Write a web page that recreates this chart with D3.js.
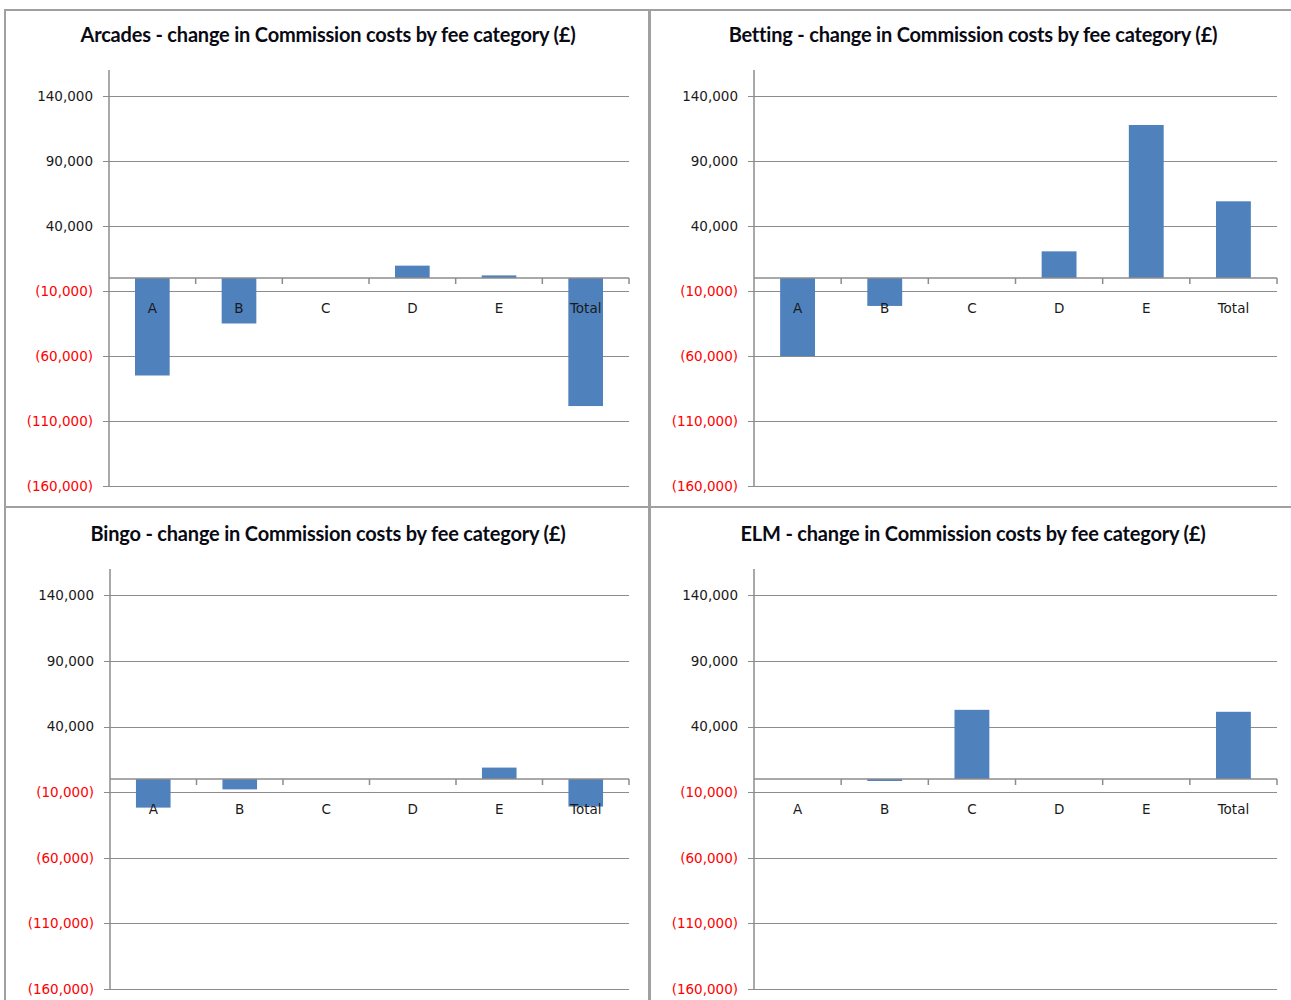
<!DOCTYPE html>
<html>
<head>
<meta charset="utf-8">
<script src="https://cdn.jsdelivr.net/npm/d3@7"></script>
<style>
  html, body { margin: 0; padding: 0; background: #fff; }
  svg { display: block; }
</style>
</head>
<body>
<svg id="chart" width="1291" height="1000"></svg>
<script>
// Fee categories shared by every sector
const categories = ["A", "B", "C", "D", "E", "Total"];

// Change in Commission costs (£) per sector
const arcadesValues = [-75000, -35000, 0, 9500, 2000, -98500];
const bettingValues = [-60000, -21500, 0, 20500, 117700, 59000];
const bingoValues = [-21800, -7900, 0, 0, 8700, -21000];
const elmValues = [0, -1500, 52700, 0, 0, 51200];

// Value axis ticks
const yTicks = [-160000, -110000, -60000, -10000, 40000, 90000, 140000];
const yDomain = [-160000, 160000];

const sectors = [
  { title: "Arcades - change in Commission costs by fee category (£)", values: arcadesValues },
  { title: "Betting - change in Commission costs by fee category (£)", values: bettingValues },
  { title: "Bingo - change in Commission costs by fee category (£)", values: bingoValues },
  { title: "ELM - change in Commission costs by fee category (£)", values: elmValues }
];

// Panel frames and plot areas (2 x 2 grid)
const layout = [
  { box: [5, 10, 644, 497], titleY: 42, plot: { left: 109, right: 629, top: 70, bottom: 486 } },
  { box: [650, 10, 660, 497], titleY: 42, plot: { left: 754, right: 1277, top: 70, bottom: 486 } },
  { box: [5, 507, 644, 510], titleY: 541, plot: { left: 110, right: 629, top: 569, bottom: 989 } },
  { box: [650, 507, 660, 510], titleY: 541, plot: { left: 754, right: 1277, top: 569, bottom: 989 } }
];

const svg = d3.select("#chart");
const gridColor = "#8c8c8c";
const barColor = "#4f81bd";
const fmt = d3.format(",");
const tickText = v => v < 0 ? "(" + fmt(-v) + ")" : fmt(v);

sectors.forEach((sector, i) => {
  const L = layout[i];
  const g = svg.append("g");

  const [bx, by, bw, bh] = L.box;
  g.append("rect")
    .attr("x", bx).attr("y", by).attr("width", bw).attr("height", bh)
    .attr("fill", "#fff").attr("stroke", "#a0a0a0").attr("stroke-width", 2);

  // title centred on the panel
  g.append("text")
    .attr("x", bx + 323)
    .attr("y", L.titleY)
    .attr("text-anchor", "middle")
    .attr("font-family", "Lato, 'Open Sans', sans-serif")
    .attr("font-weight", "bold")
    .attr("font-size", 20)
    .attr("letter-spacing", -0.2)
    .attr("fill", "#0a0a14")
    .text(sector.title);

  const p = L.plot;
  const x = d3.scaleBand().domain(categories).range([p.left, p.right]).paddingInner(0.6).paddingOuter(0.3);
  const xOuter = d3.scaleBand().domain(categories).range([p.left, p.right]);
  const y = d3.scaleLinear().domain(yDomain).range([p.bottom, p.top]);

  // horizontal gridlines with value labels
  const yAxis = d3.axisLeft(y)
    .tickValues(yTicks)
    .tickSize(-(p.right - p.left) - 6)
    .tickPadding(10)
    .tickFormat(tickText);
  const ya = g.append("g")
    .attr("transform", `translate(${p.left - 6},0)`)
    .call(yAxis);
  ya.select(".domain").remove();
  ya.selectAll(".tick line")
    .attr("stroke", gridColor).attr("stroke-width", 1)
    .attr("shape-rendering", "crispEdges");
  ya.selectAll(".tick text")
    .attr("font-family", "'DejaVu Sans', Verdana, sans-serif")
    .attr("font-size", 13.5)
    .attr("fill", d => d < 0 ? "#ff0000" : "#1a1a1a");

  // vertical value axis line
  g.append("line")
    .attr("x1", p.left).attr("x2", p.left)
    .attr("y1", p.top).attr("y2", p.bottom)
    .attr("stroke", gridColor).attr("stroke-width", 1.5);

  // bars
  g.selectAll("rect.bar")
    .data(sector.values.map((v, k) => ({ cat: categories[k], v })))
    .join("rect")
    .attr("class", "bar")
    .attr("x", d => x(d.cat))
    .attr("width", x.bandwidth())
    .attr("y", d => y(Math.max(0, d.v)))
    .attr("height", d => Math.abs(y(d.v) - y(0)))
    .attr("fill", barColor);

  // category axis along zero
  const y0 = y(0);
  g.append("line")
    .attr("x1", p.left).attr("x2", p.right)
    .attr("y1", y0).attr("y2", y0)
    .attr("stroke", gridColor).attr("stroke-width", 1.5);
  g.selectAll("line.ctick")
    .data(categories)
    .join("line")
    .attr("class", "ctick")
    .attr("x1", d => xOuter(d) + xOuter.bandwidth())
    .attr("x2", d => xOuter(d) + xOuter.bandwidth())
    .attr("y1", y0).attr("y2", y0 + 6)
    .attr("stroke", gridColor).attr("stroke-width", 1.5);
  g.selectAll("text.clabel")
    .data(categories)
    .join("text")
    .attr("class", "clabel")
    .attr("x", d => xOuter(d) + xOuter.bandwidth() / 2)
    .attr("y", y0 + 35)
    .attr("text-anchor", "middle")
    .attr("font-family", "'DejaVu Sans', Verdana, sans-serif")
    .attr("font-size", 13.5)
    .attr("fill", "#1a1a1a")
    .text(d => d);
});
</script>
</body>
</html>
